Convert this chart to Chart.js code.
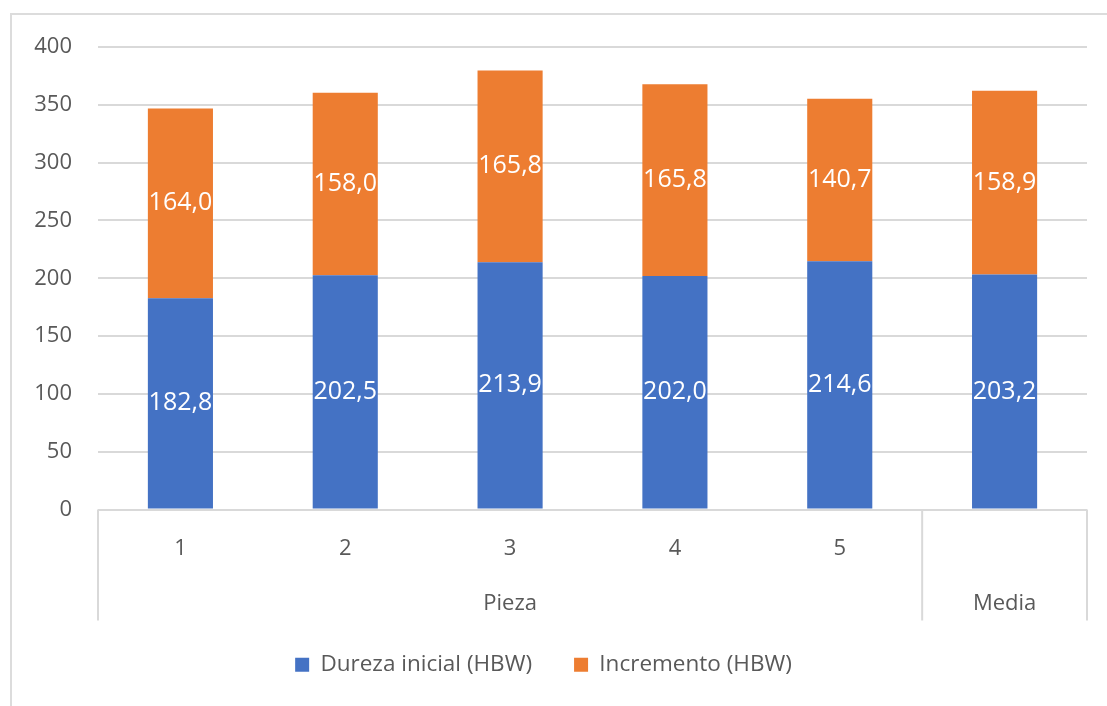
<!DOCTYPE html>
<html>
<head>
<meta charset="utf-8">
<script src="https://cdn.jsdelivr.net/npm/chart.js@4/dist/chart.umd.min.js"></script>
<style>
  html, body { margin: 0; padding: 0; background: #fff; }
  #wrap { position: relative; width: 1107px; height: 706px; }
  #frame {
    position: absolute; left: 10px; top: 13px; right: 0; bottom: 0;
    border-top: 2px solid #dcdcdc; border-left: 2px solid #dcdcdc;
  }
  #myChart { position: absolute; left: 0; top: 0; }
</style>
</head>
<body>
<div id="wrap">
  <div id="frame"></div>
  <canvas id="myChart" width="1107" height="706"></canvas>
</div>
<script>
const categories = ['1', '2', '3', '4', '5', 'Media'];
const tickLabels = ['1', '2', '3', '4', '5', ''];
const groupLabels = ['Pieza', 'Media'];
const groupSizes = [5, 1];
const durezaInicial = [182.8, 202.5, 213.9, 202.0, 214.6, 203.2];
const incremento = [164.0, 158.0, 165.8, 165.8, 140.7, 158.9];
const yTicks = [0, 50, 100, 150, 200, 250, 300, 350, 400];

const textColor = '#595959';
const lineColor = '#d9d9d9';
const fontFamily = '"Open Sans", sans-serif';

// white value labels in the middle of each segment
const barLabels = {
  id: 'barLabels',
  afterDatasetsDraw(chart) {
    const ctx = chart.ctx;
    ctx.save();
    ctx.fillStyle = '#ffffff';
    ctx.font = `25px ${fontFamily}`;
    ctx.textAlign = 'center';
    ctx.textBaseline = 'middle';
    chart.data.datasets.forEach((ds, di) => {
      chart.getDatasetMeta(di).data.forEach((bar, i) => {
        const txt = ds.data[i].toFixed(1).replace('.', ',');
        ctx.fillText(txt, bar.x, (bar.y + bar.base) / 2);
      });
    });
    ctx.restore();
  }
};

// two-level category axis: separators and group names
const groupAxis = {
  id: 'groupAxis',
  afterDraw(chart) {
    const ctx = chart.ctx;
    const area = chart.chartArea;
    const x = chart.scales.x;
    const step = (area.right - area.left) / categories.length;
    const bottom = area.bottom + 111;
    ctx.save();
    ctx.strokeStyle = lineColor;
    ctx.lineWidth = 2;
    ctx.fillStyle = textColor;
    ctx.font = `22px ${fontFamily}`;
    ctx.textAlign = 'center';
    ctx.textBaseline = 'middle';
    let start = 0;
    const edges = [area.left];
    groupSizes.forEach((n, gi) => {
      const left = x.getPixelForValue(start) - step / 2;
      const right = x.getPixelForValue(start + n - 1) + step / 2;
      edges.push(right);
      ctx.fillText(groupLabels[gi], (left + right) / 2, area.bottom + 94);
      start += n;
    });
    edges.forEach((ex) => {
      ctx.beginPath();
      ctx.moveTo(ex, area.bottom);
      ctx.lineTo(ex, bottom);
      ctx.stroke();
    });
    ctx.restore();
  }
};

const ctx = document.getElementById('myChart').getContext('2d');
const chart = new Chart(ctx, {
  type: 'bar',
  data: {
    labels: categories,
    datasets: [
      {
        label: 'Dureza inicial (HBW)',
        data: durezaInicial,
        backgroundColor: '#4472c4',
        barPercentage: 0.395,
        categoryPercentage: 1,
      },
      {
        label: 'Incremento (HBW)',
        data: incremento,
        backgroundColor: '#ed7d31',
        barPercentage: 0.395,
        categoryPercentage: 1,
      },
    ],
  },
  options: {
    responsive: false,
    animation: false,
    layout: { padding: { top: 47, right: 20, left: 0, bottom: 20 } },
    plugins: {
      tooltip: { enabled: false },
      legend: {
        position: 'bottom',
        labels: {
          color: textColor,
          font: { family: fontFamily, size: 22.5 },
          boxWidth: 14,
          boxHeight: 14,
          padding: 42,
        },
      },
    },
    scales: {
      x: {
        stacked: true,
        grid: { display: false, drawTicks: false },
        border: { display: false },
        ticks: {
          color: textColor,
          font: { family: fontFamily, size: 22 },
          padding: 26,
          maxRotation: 0,
          callback: (v, i) => tickLabels[i],
        },
        afterFit: (scale) => { scale.height = 102; },
      },
      y: {
        stacked: true,
        min: 0,
        max: 400,
        afterBuildTicks: (scale) => { scale.ticks = yTicks.map((v) => ({ value: v })); },
        grid: { color: lineColor, lineWidth: 2, drawTicks: false },
        border: { display: false },
        ticks: {
          color: textColor,
          font: { family: fontFamily, size: 22 },
          padding: 26,
        },
        afterFit: (scale) => { scale.width = 98; },
      },
    },
  },
  plugins: [barLabels, groupAxis],
});
</script>
</body>
</html>
